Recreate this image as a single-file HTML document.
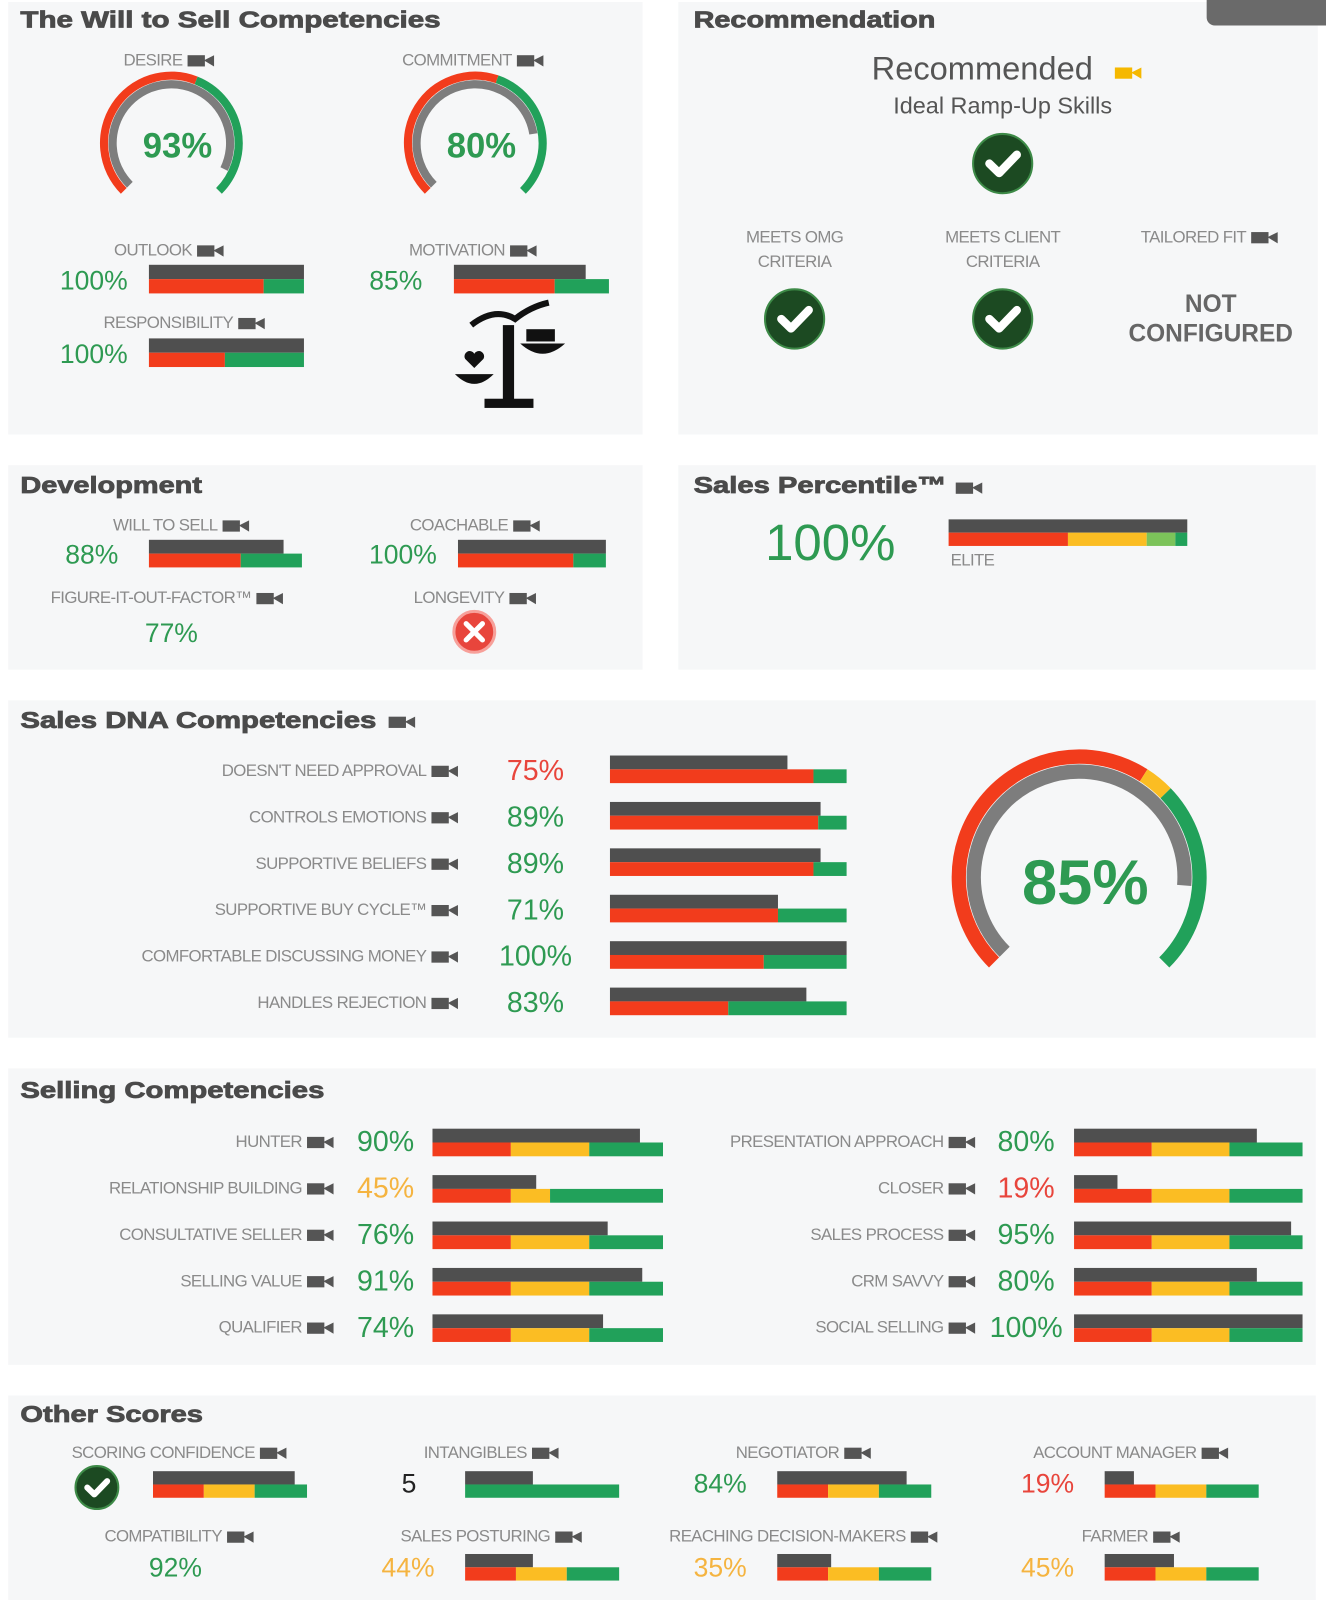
<!DOCTYPE html>
<html><head><meta charset="utf-8"><style>
html,body{margin:0;padding:0;background:#fff;}
svg{display:block;font-family:"Liberation Sans",sans-serif;}
.lbl{fill:#8a8a8a;font-size:16.5px;letter-spacing:-0.6px;}
.ttl{fill:#4a4a4a;font-size:23px;font-weight:bold;stroke:#4a4a4a;stroke-width:0.8px;}
</style></head><body>
<svg id="dash" width="1326" height="1600" viewBox="0 0 1300 1565" preserveAspectRatio="none" xmlns="http://www.w3.org/2000/svg">
<rect x="0" y="0" width="1300" height="1565" fill="#fff"/>
</svg>
<script>
// ---------- data ----------
const willGaugeNames = ["DESIRE","COMMITMENT"];
const willGaugeValues = [93,80];
const willGaugeRedEnd = [0.58,0.57];
const willBarNames = ["OUTLOOK","MOTIVATION","RESPONSIBILITY"];
const willBarValues = [100,85,100];
const willBarRedEnd = [0.74,0.65,0.49];
const devNames = ["WILL TO SELL","COACHABLE"];
const devValues = [88,100];
const devRedEnd = [0.6,0.78];
const figureItOutValue = 77;
const percentileValue = 100;
const percentileBounds = [0.5,0.83,0.95];
const dnaNames = ["DOESN'T NEED APPROVAL","CONTROLS EMOTIONS","SUPPORTIVE BELIEFS","SUPPORTIVE BUY CYCLE™","COMFORTABLE DISCUSSING MONEY","HANDLES REJECTION"];
const dnaValues = [75,89,89,71,100,83];
const dnaRedEnd = [0.86,0.88,0.86,0.71,0.65,0.5];
const dnaOverall = 85;
const sellLeftNames = ["HUNTER","RELATIONSHIP BUILDING","CONSULTATIVE SELLER","SELLING VALUE","QUALIFIER"];
const sellLeftValues = [90,45,76,91,74];
const sellLeftYellowEnd = [0.68,0.51,0.68,0.68,0.68];
const sellRightNames = ["PRESENTATION APPROACH","CLOSER","SALES PROCESS","CRM SAVVY","SOCIAL SELLING"];
const sellRightValues = [80,19,95,80,100];
const otherNames = ["SCORING CONFIDENCE","INTANGIBLES","NEGOTIATOR","ACCOUNT MANAGER","COMPATIBILITY","SALES POSTURING","REACHING DECISION-MAKERS","FARMER"];
const otherValues = [92,44,84,19,92,44,35,45];
const otherPrinted = ["","5","84%","19%","92%","44%","35%","45%"];

// ---------- helpers ----------
const NS="http://www.w3.org/2000/svg";
const svg=document.getElementById('dash');
const RED="#f23c1c",GRN="#21a15a",YEL="#fbbd23",GRY="#4f4f4f",LGRN="#7cc35a";
function mk(tag,attrs,parent){const e=document.createElementNS(NS,tag);for(const k in attrs)e.setAttribute(k,attrs[k]);(parent||svg).appendChild(e);return e;}
function txt(x,y,s,attrs){const e=mk('text',Object.assign({x:x,y:y},attrs||{}));e.textContent=s;return e;}
function valColor(v){return v<30?"#e8453c":(v<50?"#f5b440":"#2e9a52");}
function cam(x,y,col){
  const g=mk('g',{});
  
  
  mk('rect',{x:x,y:y-5,width:17,height:11,fill:col||"#555"},g);
  mk('path',{d:`M${x+16} ${y} L${x+26} ${y-5} L${x+26} ${y+6} Z`,fill:col||"#555"},g);
  return g;
}
function panel(x,y,w,h,name){const r=mk('rect',{x:x,y:y,width:w,height:h,fill:"#f6f7f8"});}
function bar(x,y,w,h,value,bounds,colors,name){
  const g=mk('g',{});
  
  
  const hh=h/2;
  mk('rect',{x:x,y:y,width:w*Math.min(value,100)/100,height:hh,fill:GRY},g);
  let prev=0;
  for(let i=0;i<colors.length;i++){
    const end=i<bounds.length?bounds[i]:1;
    mk('rect',{x:x+w*prev,y:y+hh,width:w*(end-prev),height:hh,fill:colors[i]},g);
    prev=end;
  }
  return g;
}
function pt(cx,cy,r,a){const t=a*Math.PI/180;return [cx+r*Math.sin(t),cy-r*Math.cos(t)];}
function arc(cx,cy,r,a0,a1,col,sw,parent){
  const p0=pt(cx,cy,r,a0),p1=pt(cx,cy,r,a1);const large=(a1-a0)>180?1:0;
  return mk('path',{d:`M${p0[0]} ${p0[1]} A${r} ${r} 0 ${large} 1 ${p1[0]} ${p1[1]}`,fill:"none",stroke:col,"stroke-width":sw},parent);
}
function gauge(cx,cy,r,sw,value,redEnd,yelEnd,name,fs){
  const g=mk('g',{});
  
  
  const a=v=>-135+270*v;
  arc(cx,cy,r,a(0),a(redEnd),RED,sw,g);
  if(yelEnd){arc(cx,cy,r,a(redEnd),a(yelEnd),YEL,sw,g);arc(cx,cy,r,a(yelEnd),a(1),GRN,sw,g);}
  else arc(cx,cy,r,a(redEnd),a(1),GRN,sw,g);
  arc(cx,cy,r-sw*1.05,a(0),a(value/100),"#7d7d7d",sw,g);
  const t=mk('text',{x:cx+6,y:cy+fs*0.42,"text-anchor":"middle","font-size":fs,"font-weight":"bold",fill:"#2e9a52"},g);
  t.textContent=value+"%";
}
function check(cx,cy,r,name){
  const g=mk('g',{});
  
  
  mk('circle',{cx:cx,cy:cy,r:r,fill:"#1c4a22",stroke:"#3d8a47","stroke-width":2},g);
  mk('path',{d:`M${cx-r*0.45} ${cy} L${cx-r*0.12} ${cy+r*0.32} L${cx+r*0.48} ${cy-r*0.3}`,fill:"none",stroke:"#fff","stroke-width":r*0.28,"stroke-linecap":"round","stroke-linejoin":"round"},g);
}
function label(x,y,s,anchor,name,icon){
  const t=txt(x,y,s,{class:"lbl","text-anchor":anchor||"middle"});
  
  
  if(icon){const w=t.getComputedTextLength();const ex=anchor==="end"?x:(anchor==="start"?x+w:x+w/2);cam(ex+5,y-5);}
  return t;
}
function value(x,y,s,col,fs,name){
  const t=txt(x,y,s,{"text-anchor":"middle","font-size":fs||26,fill:col});
  
  
}
function title(x,y,s,name,len){const t=txt(x,y,s,{class:"ttl",textLength:len,lengthAdjust:"spacingAndGlyphs"});return t;}

// ---------- panels ----------
panel(8,2,622,423,"will-to-sell-panel");
panel(665,2,627,423,"recommendation-panel");
panel(8,455,622,200,"development-panel");
panel(665,455,625,200,"sales-percentile-panel");
panel(8,685,1282,330,"sales-dna-panel");
panel(8,1045,1282,290,"selling-competencies-panel");
panel(8,1365,1282,200,"other-scores-panel");
const tab=mk('rect',{x:1183,y:-10,width:130,height:35,rx:8,fill:"#6a6a6a"});



// ---------- will to sell ----------
title(20,27,"The Will to Sell Competencies","will-to-sell-title",412);
const gx=[168,466];
willGaugeNames.forEach((n,i)=>{
  label(gx[i]-18,64,n,"middle",n.toLowerCase()+"-label",true);
  gauge(gx[i],140,66,8,willGaugeValues[i],willGaugeRedEnd[i],null,n.toLowerCase()+"-gauge",34);
});
const wbx=[146,445,146],wby=[259,259,331],wlx=[150,448,165],wly=[250,250,321],wvx=[92,388,92];
willBarNames.forEach((n,i)=>{
  label(wlx[i],wly[i],n,"middle",n.toLowerCase()+"-label",true);
  value(wvx[i],wby[i]+24,willBarValues[i]+"%",valColor(willBarValues[i]),26,n.toLowerCase()+"-value");
  bar(wbx[i],wby[i],152,28,willBarValues[i],[willBarRedEnd[i]],[RED,GRN],n.toLowerCase()+"-bar");
});
// scales icon
(function(){const g=mk('g',{fill:"#111",stroke:"#111"});


mk('rect',{x:493,y:318,width:11,height:75,stroke:"none"},g);
mk('rect',{x:475,y:390,width:48,height:9,stroke:"none"},g);
mk('path',{d:"M462 318 Q485 300 505 312 Q520 300 538 296",fill:"none","stroke-width":6},g);
mk('path',{d:"M446 366 Q465 385 484 366 Z",stroke:"none"},g);
mk('path',{d:"M510 336 Q532 356 554 336 Z",stroke:"none"},g);
mk('path',{d:"M465 360 l-9 -9 a5 5 0 0 1 9 -5 a5 5 0 0 1 9 5 Z",stroke:"none"},g);
mk('rect',{x:516,y:322,width:28,height:12,stroke:"none"},g);
})();

// ---------- recommendation ----------
title(680,27,"Recommendation","recommendation-title",237);
txt(963,78,"Recommended",{"text-anchor":"middle","font-size":32,fill:"#555"});
cam(1093,71,"#f5b800");
txt(983,111,"Ideal Ramp-Up Skills",{"text-anchor":"middle","font-size":23,fill:"#555"});
check(983,160,29,"recommended-check");
label(779,237,"MEETS OMG","middle","meets-omg-label");label(779,261,"CRITERIA","middle","meets-omg-label-2");
label(983,237,"MEETS CLIENT","middle","meets-client-label");label(983,261,"CRITERIA","middle","meets-client-label-2");
label(1170,237,"TAILORED FIT","middle","tailored-fit-label",true);
check(779,312,29,"meets-omg-check");check(983,312,29,"meets-client-check");
txt(1187,305,"NOT",{"text-anchor":"middle","font-size":24,fill:"#666","font-weight":"bold"});
txt(1187,334,"CONFIGURED",{"text-anchor":"middle","font-size":24,fill:"#666","font-weight":"bold"});

// ---------- development ----------
title(20,482,"Development","development-title",178);
const dbx=[146,449],dlx=[162,450],dvx=[90,395];
devNames.forEach((n,i)=>{
  label(dlx[i],519,n,"middle",n.toLowerCase().replace(/ /g,'-')+"-label",true);
  value(dvx[i],551,devValues[i]+"%",valColor(devValues[i]),26,n.toLowerCase().replace(/ /g,'-')+"-value");
  bar(dbx[i],528,dbx[i]===146?150:145,27,devValues[i],[devRedEnd[i]],[RED,GRN],n.toLowerCase().replace(/ /g,'-')+"-bar");
});
label(148,590,"FIGURE-IT-OUT-FACTOR™","middle","figure-it-out-label",true);
value(168,628,figureItOutValue+"%",valColor(figureItOutValue),26,"figure-it-out-value");
label(450,590,"LONGEVITY","middle","longevity-label",true);
(function(){const g=mk('g',{});
mk('circle',{cx:465,cy:618,r:20,fill:"#e8453c",stroke:"#f7a09a","stroke-width":3},g);
mk('path',{d:"M457 610 L473 626 M473 610 L457 626",stroke:"#fff","stroke-width":5,"stroke-linecap":"round"},g);})();

// ---------- sales percentile ----------
title(680,482,"Sales Percentile™","sales-percentile-title",248);cam(937,477);
value(814,548,percentileValue+"%","#2e9a52",50,"sales-percentile-value");
bar(930,508,234,26,percentileValue,percentileBounds,[RED,YEL,LGRN,GRN],"sales-percentile-bar");
label(932,553,"ELITE","start","elite-label");

// ---------- sales DNA ----------
title(20,712,"Sales DNA Competencies","sales-dna-title",349);cam(381,706);
dnaNames.forEach((n,i)=>{
  const y=753+i*45.4;
  label(418,y+6,n,"end","dna-label-"+i,true);
  value(525,y+10,dnaValues[i]+"%",dnaValues[i]<80&&i===0?"#e8453c":valColor(dnaValues[i]),28,"dna-value-"+i);
  bar(598,y-14,232,27,dnaValues[i],[dnaRedEnd[i]],[RED,GRN],"dna-bar-"+i);
});
gauge(1058,858,118,14,dnaOverall,0.62,0.67,"sales-dna-overall-gauge",62);

// ---------- selling ----------
title(20,1074,"Selling Competencies","selling-competencies-title",298);
sellLeftNames.forEach((n,i)=>{
  const y=1116+i*45.4;
  label(296,y+6,n,"end","sell-left-label-"+i,true);
  value(378,y+10,sellLeftValues[i]+"%",valColor(sellLeftValues[i]),28,"sell-left-value-"+i);
  bar(424,y-12,226,27,sellLeftValues[i],[0.34,sellLeftYellowEnd[i]],[RED,YEL,GRN],"sell-left-bar-"+i);
});
sellRightNames.forEach((n,i)=>{
  const y=1116+i*45.4;
  label(925,y+6,n,"end","sell-right-label-"+i,true);
  value(1006,y+10,sellRightValues[i]+"%",valColor(sellRightValues[i]),28,"sell-right-value-"+i);
  bar(1053,y-12,224,27,sellRightValues[i],[0.34,0.68],[RED,YEL,GRN],"sell-right-bar-"+i);
});

// ---------- other scores ----------
title(20,1391,"Other Scores","other-scores-title",179);
const ocx=[170,476,782,1103];
otherNames.forEach((n,i)=>{
  const col=i%4,row=Math.floor(i/4);
  const ly=row?1508:1426;
  label(ocx[col]-10,ly,n,"middle","other-label-"+i,true);
  const vy=row?1542:1460;
  if(i===0){check(95,1455,21,"scoring-confidence-check");}
  else if(i===1){value(401,vy,otherPrinted[i],"#222",26,"intangibles-value");}
  else if(i===4){value(172,vy,otherPrinted[i],valColor(otherValues[i]),26,"compatibility-value");}
  else value(ocx[col]-76,vy,otherPrinted[i],valColor(otherValues[i]),26,"other-value-"+i);
  if(i===4)return;
  const bx=[150,456,762,1083][col];
  const by=row?1520:1439;
  if(i===1)bar(bx,by,151,26,otherValues[i],[],[GRN],"other-bar-"+i);
  else bar(bx,by,151,26,otherValues[i],[0.33,0.66],[RED,YEL,GRN],"other-bar-"+i);
});
</script>
</body></html>
